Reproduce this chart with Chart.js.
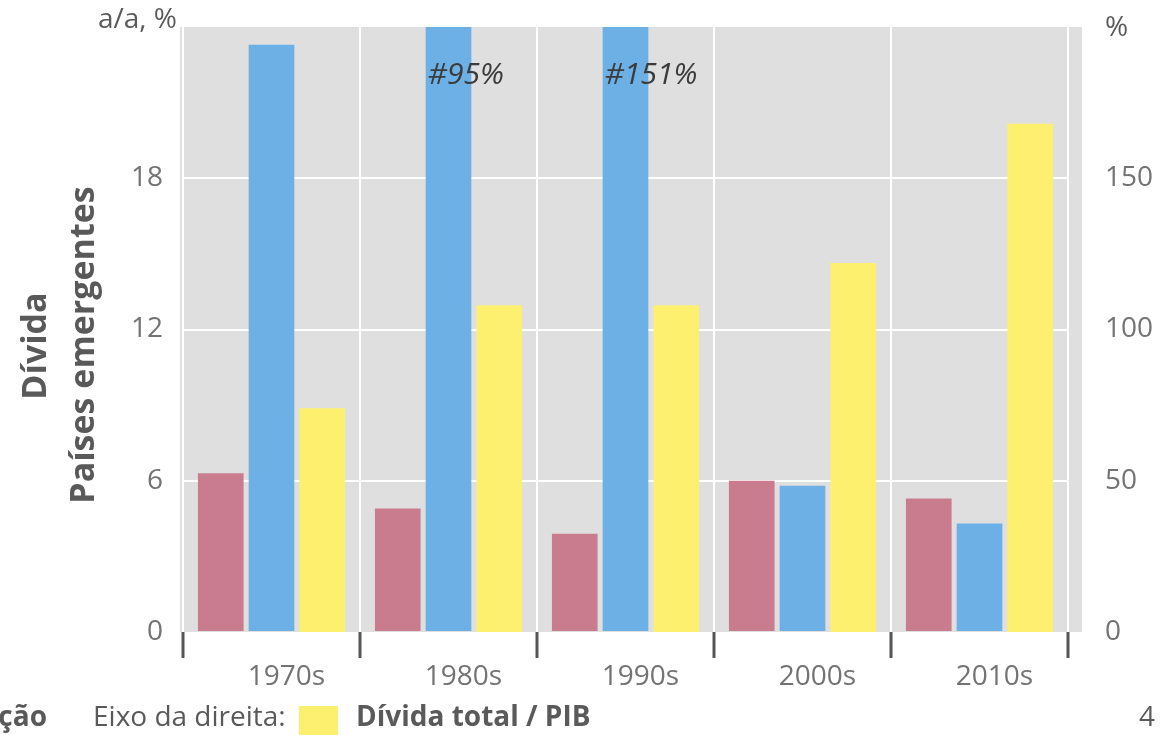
<!DOCTYPE html>
<html>
<head>
<meta charset="utf-8">
<script src="https://cdn.jsdelivr.net/npm/chart.js@4.4.1/dist/chart.umd.min.js"></script>
<style>
  html, body { margin: 0; padding: 0; background: #fff; }
  #wrap { width: 1160px; height: 735px; }
</style>
</head>
<body>
<div id="wrap"><canvas id="grafico" width="1160" height="735"></canvas></div>
<script>
var decadas = ['1970s', '1980s', '1990s', '2000s', '2010s'];
var serieVermelha = [6.3, 4.9, 3.9, 6.0, 5.3];      // eixo esquerdo, a/a %
var serieAzul = [23.3, 95, 151, 5.8, 4.3];          // eixo esquerdo, a/a %
var dividaPib = [74, 108, 108, 122, 168];            // eixo direito, %
var ticksEsq = [0, 6, 12, 18];
var ticksDir = [0, 50, 100, 150];

var fonte = '"Open Sans", "Noto Sans", sans-serif';
var cinza = '#737373';

var fundoPlot = {
  id: 'fundoPlot',
  beforeDraw: function (chart) {
    var a = chart.chartArea, ctx = chart.ctx;
    ctx.save();
    ctx.fillStyle = '#dfdfdf';
    ctx.fillRect(a.left - 3, a.top, a.right - a.left + 17, a.bottom - a.top);
    ctx.restore();
  }
};

var textos = {
  id: 'textos',
  afterDraw: function (chart) {
    var ctx = chart.ctx, a = chart.chartArea;
    var yEsq = chart.scales.y;
    ctx.save();
    // unidades
    ctx.fillStyle = '#5a5a5a';
    ctx.font = '28px ' + fonte;
    ctx.textBaseline = 'middle';
    ctx.textAlign = 'right';
    ctx.fillText('a/a, %', 177, 20);
    ctx.textAlign = 'left';
    ctx.fillText('%', 1105, 28);

    // rotulos acima do limite
    var meta = chart.getDatasetMeta(1);
    ctx.font = 'italic 30px ' + fonte;
    ctx.fillStyle = '#3b3b3b';
    ctx.textAlign = 'left';
    meta.data.forEach(function (bar, i) {
      if (serieAzul[i] > yEsq.max) {
        ctx.fillText('#' + serieAzul[i] + '%', bar.x - bar.width / 2 + 2, a.top + 48);
      }
    });

    // titulo do eixo esquerdo
    ctx.font = 'bold 34px ' + fonte;
    ctx.fillStyle = '#595959';
    ctx.textAlign = 'center';
    ctx.textBaseline = 'alphabetic';
    ctx.save();
    ctx.translate(46, 346);
    ctx.rotate(-Math.PI / 2);
    ctx.fillText('Dívida', 0, 0);
    ctx.restore();
    ctx.save();
    ctx.translate(94, 345);
    ctx.rotate(-Math.PI / 2);
    ctx.fillText('Países emergentes', 0, 0);
    ctx.restore();

    // legenda inferior
    ctx.textBaseline = 'middle';
    ctx.textAlign = 'right';
    ctx.font = 'bold 28px ' + fonte;
    ctx.fillText('ção', 47, 718);
    ctx.textAlign = 'left';
    ctx.font = '28px ' + fonte;
    ctx.fillText('Eixo da direita:', 93, 718);
    ctx.fillStyle = '#fef06f';
    ctx.fillRect(299, 706, 39, 29);
    ctx.fillStyle = '#5a5a5a';
    ctx.font = 'bold 28px ' + fonte;
    ctx.fillText('Dívida total / PIB', 356, 718);
    ctx.font = '28px ' + fonte;
    ctx.fillText('4', 1139, 718);
    ctx.restore();
  }
};

new Chart(document.getElementById('grafico').getContext('2d'), {
  type: 'bar',
  data: {
    labels: decadas,
    datasets: [
      { label: 'Vermelha', data: serieVermelha, backgroundColor: '#c97c8e', yAxisID: 'y' },
      { label: 'Azul', data: serieAzul, backgroundColor: '#6cb0e6', yAxisID: 'y' },
      { label: 'Dívida total / PIB', data: dividaPib, backgroundColor: '#fef06f', yAxisID: 'y1' }
    ]
  },
  options: {
    responsive: false,
    animation: false,
    layout: { padding: { top: 27, left: 0, right: 0, bottom: 0 } },
    datasets: { bar: { categoryPercentage: 0.86, barPercentage: 0.9 } },
    plugins: { legend: { display: false }, tooltip: { enabled: false } },
    scales: {
      x: {
        grid: { offset: true, color: '#ffffff', lineWidth: 2, tickColor: '#555', tickLength: 26, tickWidth: 3 },
        border: { display: false },
        ticks: { color: cinza, font: { family: fonte, size: 28 }, padding: 2, labelOffset: 15 },
        afterFit: function (s) { s.height = 103; s.paddingLeft = 0; s.paddingRight = 0; }
      },
      y: {
        position: 'left',
        min: 0, max: 24,
        afterBuildTicks: function (s) { s.ticks = ticksEsq.map(function (v) { return { value: v }; }); },
        grid: { color: function (c) { return c.tick && c.tick.value === 0 ? 'rgba(0,0,0,0)' : '#ffffff'; }, lineWidth: 2, drawTicks: false },
        border: { display: false },
        ticks: { color: cinza, font: { family: fonte, size: 28 }, padding: 20 },
        afterFit: function (s) { s.width = 183; s.paddingTop = 0; s.paddingBottom = 0; }
      },
      y1: {
        position: 'right',
        min: 0, max: 200,
        afterBuildTicks: function (s) { s.ticks = ticksDir.map(function (v) { return { value: v }; }); },
        grid: { display: false, drawTicks: false },
        border: { display: false },
        ticks: { color: cinza, font: { family: fonte, size: 28 }, padding: 37 },
        afterFit: function (s) { s.width = 92; s.paddingTop = 0; s.paddingBottom = 0; }
      }
    }
  },
  plugins: [fundoPlot, textos]
});
</script>
</body>
</html>
